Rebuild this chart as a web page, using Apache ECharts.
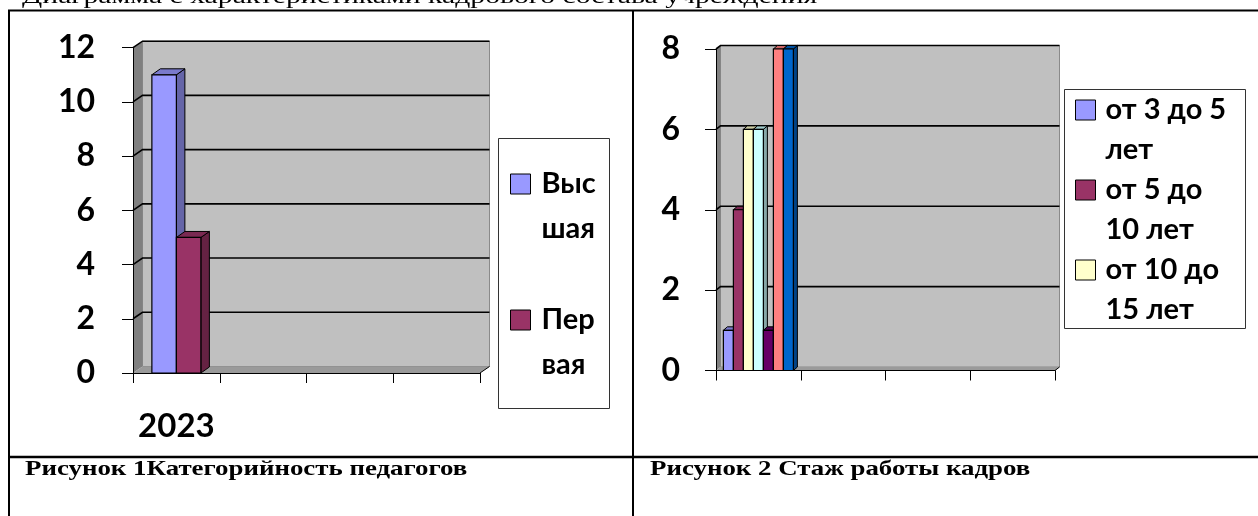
<!DOCTYPE html>
<html>
<head>
<meta charset="utf-8">
<script src="https://cdn.jsdelivr.net/npm/echarts@6/dist/echarts.min.js"></script>
<style>
  html, body { margin: 0; padding: 0; background: #fff; }
  #main { width: 1258px; height: 516px; }
</style>
</head>
<body>
<div id="main"></div>
<script>
// Рисунок 1 – категорийность педагогов
var categories1 = ['2023', '', '', ''];
var names1 = ['Высшая', 'Первая'];
var vysshaya = [11];
var pervaya = [5];
var yTicks1 = [0, 2, 4, 6, 8, 10, 12];

// Рисунок 2 – стаж работы кадров
var categories2 = ['', '', '', ''];
var names2 = ['от 3 до 5 лет', 'от 5 до 10 лет', 'от 10 до 15 лет',
  'от 15 до 20 лет', 'от 20 до 25 лет', 'от 25 до 30 лет', 'свыше 30 лет'];
var staj = [[1], [4], [6], [6], [1], [8], [8]];
var yTicks2 = [0, 2, 4, 6, 8];
var legendNames2 = names2.slice(0, 3);

// как подписи переносятся в узкой легенде (пустая первая строка - чтобы значок стоял у первой строки)
var legendLines = {
  'Высшая': '\nВыс\nшая',
  'Первая': '\nПер\nвая',
  'от 3 до 5 лет': '\nот 3 до 5\nлет',
  'от 5 до 10 лет': '\nот 5 до\n10 лет',
  'от 10 до 15 лет': '\nот 10 до\n15 лет'
};

var colors1 = ['#9999ff', '#993366'];
var colors2 = ['#9999ff', '#993366', '#ffffcc', '#ccffff', '#660066', '#ff8080', '#0066cc'];

function shade(hex, k) {
  var n = parseInt(hex.slice(1), 16);
  var r = Math.round(((n >> 16) & 255) * k);
  var g = Math.round(((n >> 8) & 255) * k);
  var b = Math.round((n & 255) * k);
  return 'rgb(' + r + ',' + g + ',' + b + ')';
}

// стенки "объёмной" области построения
function wallItem(ticks, dx, dy) {
  return function (params, api) {
    var cs = params.coordSys;
    var x0 = cs.x, x1 = cs.x + cs.width, yT = cs.y, yB = cs.y + cs.height;
    var children = [
      { type: 'polygon', shape: { points: [[x0 + dx, yT + dy], [x1 + dx, yT + dy], [x1 + dx, yB + dy], [x0 + dx, yB + dy]] },
        style: { fill: '#c0c0c0', stroke: '#8a8a8a', lineWidth: 1 } },
      { type: 'polygon', shape: { points: [[x0, yT], [x0 + dx, yT + dy], [x0 + dx, yB + dy], [x0, yB]] },
        style: { fill: '#808080' } },
      { type: 'polygon', shape: { points: [[x0, yB], [x0 + dx, yB + dy], [x1 + dx, yB + dy], [x1, yB]] },
        style: { fill: '#9a9a9a' } },
      { type: 'line', shape: { x1: x1, y1: yB, x2: x1 + dx, y2: yB + dy },
        style: { stroke: '#000', lineWidth: 1 } }
    ];
    ticks.forEach(function (v) {
      var y = api.coord([0, v])[1];
      children.push({ type: 'polyline', shape: { points: [[x0, y], [x0 + dx, y + dy], [x1 + dx, y + dy]] },
        style: { stroke: '#000', lineWidth: 1.6, fill: null } });
    });
    return { type: 'group', children: children };
  };
}

// объёмный столбик
function barItem(idx, count, barW, dx, dy, color) {
  return function (params, api) {
    var top = api.coord([api.value(0), api.value(1)]);
    var base = api.coord([api.value(0), 0]);
    var x0 = top[0] + (idx - count / 2) * barW;
    var x1 = x0 + barW;
    var yT = top[1], yB = base[1];
    return { type: 'group', children: [
      { type: 'polygon', shape: { points: [[x1, yT], [x1 + dx, yT + dy], [x1 + dx, yB + dy], [x1, yB]] },
        style: { fill: shade(color, 0.66), stroke: '#000', lineWidth: 1 } },
      { type: 'polygon', shape: { points: [[x0, yT], [x0 + dx, yT + dy], [x1 + dx, yT + dy], [x1, yT]] },
        style: { fill: shade(color, 0.8), stroke: '#000', lineWidth: 1 } },
      { type: 'rect', shape: { x: x0, y: yT, width: barW, height: yB - yT },
        style: { fill: color, stroke: '#000', lineWidth: 1.2 } }
    ] };
  };
}

var labelFont = { fontFamily: 'Lato', fontWeight: 'bold', color: '#000' };

function yAxisCfg(ticks, margin) {
  return {
    type: 'value', min: ticks[0], max: ticks[ticks.length - 1], interval: ticks[1] - ticks[0], z: 5,
    axisLine: { show: true, lineStyle: { color: '#000', width: 1 } },
    axisTick: { show: true, length: 11, lineStyle: { color: '#000', width: 1 } },
    splitLine: { show: false },
    axisLabel: Object.assign({ fontSize: 32, margin: margin }, labelFont)
  };
}

function xAxisCfg(cats, idx) {
  return {
    type: 'category', gridIndex: idx, data: cats, boundaryGap: true, z: 5,
    axisLine: { show: true, lineStyle: { color: '#000', width: 1 } },
    axisTick: { show: true, length: 10, interval: 0, lineStyle: { color: '#000', width: 1 } },
    axisLabel: Object.assign({ fontSize: 33, margin: 37, interval: 0 }, labelFont)
  };
}

var series = [
  { type: 'custom', xAxisIndex: 0, yAxisIndex: 0, data: [[0, 0]], silent: true, clip: false, z: 1,
    renderItem: wallItem(yTicks1.slice(1), 9.5, -6.5) },
  { type: 'custom', xAxisIndex: 1, yAxisIndex: 1, data: [[0, 0]], silent: true, clip: false, z: 1,
    renderItem: wallItem(yTicks2.slice(1), 4.5, -3.5) }
];
[vysshaya, pervaya].forEach(function (vals, i) {
  series.push({
    type: 'custom', name: names1[i], xAxisIndex: 0, yAxisIndex: 0, clip: false, z: 3,
    itemStyle: { color: colors1[i] },
    data: vals.map(function (v, c) { return [c, v]; }),
    renderItem: barItem(i, names1.length, 24.5, 8.5, -6, colors1[i])
  });
});
staj.forEach(function (vals, i) {
  series.push({
    type: 'custom', name: names2[i], xAxisIndex: 1, yAxisIndex: 1, clip: false, z: 3,
    itemStyle: { color: colors2[i] },
    data: vals.map(function (v, c) { return [c, v]; }),
    renderItem: barItem(i, names2.length, 10, 4, -3.5, colors2[i])
  });
});

var legendText = function (n) { return legendLines[n] || n; };

var chart = echarts.init(document.getElementById('main'));
chart.setOption({
  animation: false,
  backgroundColor: '#fff',
  grid: [
    { left: 133, top: 47.7, width: 347, height: 325.3 },
    { left: 716, top: 49, width: 339, height: 321.5 }
  ],
  xAxis: [xAxisCfg(categories1, 0), xAxisCfg(categories2, 1)],
  yAxis: [
    Object.assign(yAxisCfg(yTicks1, 38), { gridIndex: 0 }),
    Object.assign(yAxisCfg(yTicks2, 36), { gridIndex: 1 })
  ],
  legend: [
    { data: names1, orient: 'vertical', left: 510, top: 116.5, padding: 0, itemGap: 1,
      itemWidth: 20, itemHeight: 20, icon: 'rect', selectedMode: false, formatter: legendText,
      itemStyle: { borderColor: '#000', borderWidth: 1 },
      textStyle: Object.assign({ fontSize: 29, lineHeight: 45, padding: [0, 0, 0, 6] }, labelFont) },
    { data: legendNames2, orient: 'vertical', left: 1075, top: 50, padding: 0, itemGap: -40,
      itemWidth: 20, itemHeight: 20, icon: 'rect', selectedMode: false, formatter: legendText,
      itemStyle: { borderColor: '#000', borderWidth: 1 },
      textStyle: Object.assign({ fontSize: 29, lineHeight: 40, padding: [0, 0, 0, 5] }, labelFont) }
  ],
  graphic: [
    { type: 'text', x: 22, y: -2.7, scaleX: 1.35,
      style: { text: 'Диаграмма с характеристиками кадрового состава учреждения',
        font: '22px "Liberation Serif"', fill: '#000', verticalAlign: 'middle' } },
    { type: 'rect', shape: { x: 498.5, y: 138.5, width: 111, height: 270 },
      style: { fill: '#fff', stroke: '#333', lineWidth: 1 } },
    { type: 'rect', shape: { x: 1064.5, y: 89.5, width: 181, height: 239 },
      style: { fill: '#fff', stroke: '#333', lineWidth: 1 } },
    { type: 'line', shape: { x1: 8, y1: 10.5, x2: 1258, y2: 10.5 }, style: { stroke: '#000', lineWidth: 2.2 } },
    { type: 'line', shape: { x1: 9, y1: 10, x2: 9, y2: 516 }, style: { stroke: '#000', lineWidth: 2 } },
    { type: 'line', shape: { x1: 633, y1: 10, x2: 633, y2: 516 }, style: { stroke: '#000', lineWidth: 2 } },
    { type: 'line', shape: { x1: 8, y1: 457, x2: 1258, y2: 457 }, style: { stroke: '#000', lineWidth: 2.4 } },
    { type: 'text', x: 25, y: 470, scaleX: 1.28,
      style: { text: 'Рисунок 1Категорийность педагогов', font: 'bold 21px "Liberation Serif"',
        fill: '#000', verticalAlign: 'middle' } },
    { type: 'text', x: 650, y: 470, scaleX: 1.28,
      style: { text: 'Рисунок 2 Стаж работы кадров', font: 'bold 21px "Liberation Serif"',
        fill: '#000', verticalAlign: 'middle' } }
  ],
  series: series
});
</script>
</body>
</html>
